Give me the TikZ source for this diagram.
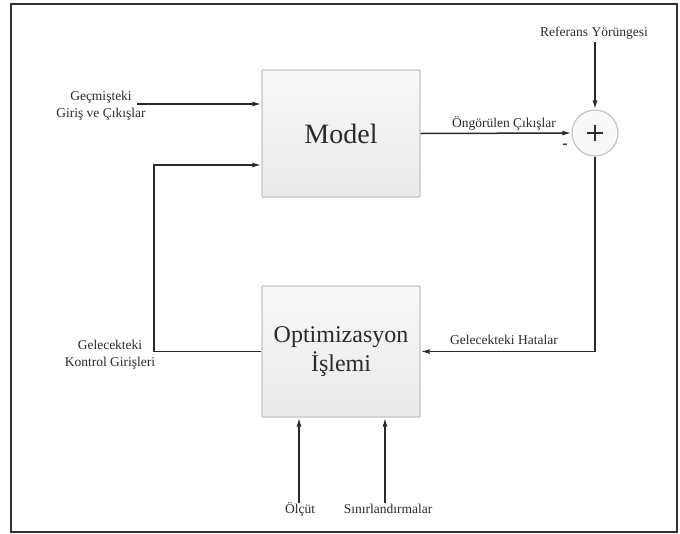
\documentclass[tikz,border=0pt]{standalone}
\usepackage{fontspec}
\setmainfont{Liberation Serif}
\usetikzlibrary{arrows.meta,calc}
\definecolor{linec}{HTML}{2A2A2A}
\definecolor{boxedge}{HTML}{C4C4C4}
\definecolor{boxtop}{HTML}{F8F8F8}
\definecolor{boxbot}{HTML}{EAEAEA}
\definecolor{txtc}{HTML}{2A2A2A}
\begin{document}
\begin{tikzpicture}[x=1pt,y=-1pt,
  blockbox/.style={draw=boxedge,line width=1.4pt,top color=boxtop,bottom color=boxbot,
    rounded corners=1pt,minimum width=158pt,inner sep=0pt,align=center,text=txtc},
  sumnode/.style={circle,draw=boxedge,line width=1.2pt,fill=boxtop,minimum size=46pt,inner sep=0pt,text=txtc},
  lbl/.style={text=txtc,font=\fontsize{13.5}{17}\selectfont,align=center,inner sep=0pt},
  conn/.style={draw=linec,line width=1.5pt},
  arr/.style={conn,-{Latex[length=9pt,width=5pt]}}
]
\useasboundingbox (0,0) rectangle (680,533);
\draw[line width=2pt,draw=black!80] (11,4) rectangle (677,532);

% blocks
\node[blockbox,minimum height=127pt,font=\fontsize{28}{30}\selectfont] (model) at (341,133.5) {Model};
\node[blockbox,minimum height=131pt,font=\fontsize{24}{29}\selectfont] (opt) at (341,351.5) {Optimizasyon\\İşlemi};
\node[sumnode] (sum) at (595,133) {};
\draw[draw=txtc,line width=1.6pt] ($(sum.center)+(-8,0)$) -- ($(sum.center)+(8,0)$)
  ($(sum.center)+(0,-8)$) -- ($(sum.center)+(0,8)$);

% labels
\node[lbl] (ref) at (594,33) {Referans Yörüngesi};
\node[lbl] (ongor) at (504,123) {Öngörülen Çıkışlar};
\node[lbl,font=\bfseries\fontsize{16}{16}\selectfont] (minus) at (565,146) {-};
\node[lbl] (gecmis) at (101,106) {Geçmişteki\\Giriş ve Çıkışlar};
\node[lbl] (gelkont) at (110,355) {Gelecekteki\\Kontrol Girişleri};
\node[lbl] (hata) at (504,340) {Gelecekteki Hatalar};
\node[lbl] (olcut) at (300,509) {Ölçüt};
\node[lbl] (sinir) at (388,509) {Sınırlandırmalar};

% coordinates
\coordinate (refstart) at (595,42);
\coordinate (gstart) at (137,104);
\coordinate (fb) at (154,165);
\coordinate (olcstart) at (299,503);
\coordinate (sinstart) at (385,503);

% connectors
\draw[arr] (refstart) -- (sum.north);
\draw[arr] (model.east) -- (sum.west);
\draw[arr] (sum.south) |- (opt.east);
\draw[arr] (gstart) -- (gstart -| model.west);
\draw[arr] (opt.west) -| (fb) -- (fb -| model.west);
\draw[arr] (olcstart) -- (olcstart |- opt.south);
\draw[arr] (sinstart) -- (sinstart |- opt.south);
\end{tikzpicture}
\end{document}
